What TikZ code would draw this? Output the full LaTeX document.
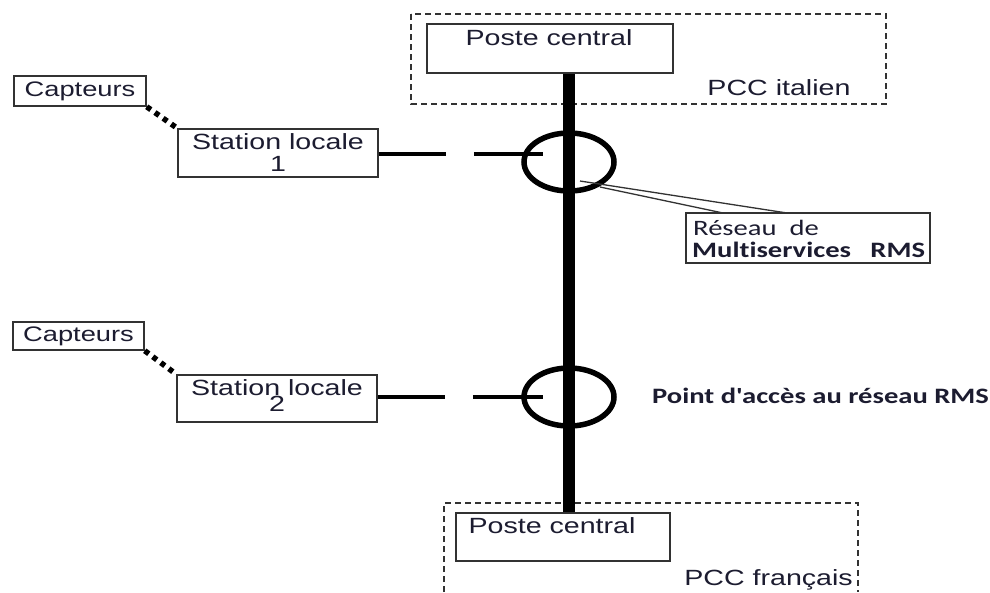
\documentclass[tikz,border=0pt]{standalone}
\usepackage{fontspec}
\setmainfont{Liberation Sans}
\newfontfamily\arialw[FakeStretch=1.3]{Liberation Sans}
\newfontfamily\calw[FakeStretch=1.3,Ligatures=NoCommon]{Carlito}
\usetikzlibrary{shapes.geometric}
\definecolor{ink}{RGB}{28,28,48}
\definecolor{frame}{RGB}{50,50,50}
\begin{document}
\begin{tikzpicture}[x=1pt,y=-1pt,
  box/.style={draw=frame, line width=1.5pt, fill=white, inner sep=0pt, text=ink},
  zone/.style={draw=frame, line width=1.6pt, dash pattern=on 6pt off 4pt},
  lbl/.style={text=ink, inner sep=0pt, font=\arialw\fontsize{22}{22}\selectfont},
  small/.style={font=\arialw\fontsize{21}{22}\selectfont},
  callw/.style={text=ink, inner sep=0pt, font=\calw\fontsize{22}{22}\selectfont},
  bus/.style={line width=12pt},
  ring/.style={draw, ellipse, line width=5.5pt, inner sep=0pt, minimum width=90pt, minimum height=58pt},
  link/.style={line width=4pt, dash pattern=on 67pt off 28pt on 90pt},
  sensorlink/.style={line width=5.5pt, dash pattern=on 5pt off 5pt},
  pointer/.style={draw=frame, line width=1.3pt}
]
\useasboundingbox[fill=white] (0,0) rectangle (990,592);

% control-centre zones
\draw[zone] (411,14) rectangle (886,104);
\draw[zone] (444,592) -- (444,503) -- (858,503) -- (858,592);
\node[lbl, anchor=base] (pccit) at (779,95) {PCC italien};
\node[lbl, anchor=base east] (pccfr) at (853,585) {PCC français};

% central stations
\node[box, minimum width=246pt, minimum height=49pt] (pc1) at (550,48.5) {};
\node[lbl, anchor=base] (pc1t) at (549,45) {Poste central};
\node[box, minimum width=214pt, minimum height=48pt] (pc2) at (563,537) {};
\node[lbl, anchor=base] (pc2t) at (552,533) {Poste central};

% access points on the RMS network
\node[ring] (c1) at (569,162) {};
\node[ring] (c2) at (569,397) {};

% network backbone
\draw[bus] (c1.center |- pc1.south) -- (c1.center |- pc2.north);

% local stations and sensors
\node[box, small, minimum width=132pt, minimum height=30pt] (cap1) at (80,91) {Capteurs};
\node[box, lbl, align=center, minimum width=200pt, minimum height=48pt] (st1) at (278,153) {Station locale\\1};
\node[box, small, minimum width=131pt, minimum height=28pt] (cap2) at (78.5,336) {Capteurs};
\node[box, minimum width=200pt, minimum height=47pt] (st2) at (277,398.5) {};
\node[lbl, anchor=base] (st2t) at (277,395) {Station locale};
\node[lbl, anchor=base] (st2n) at (277,411) {2};

\draw[sensorlink] (cap1.south east) -- (st1.north west);
\draw[sensorlink] (cap2.south east) -- (st2.north west);

\coordinate (e1) at (543,154);
\coordinate (e2) at (543,397);
\draw[link] (st1.east |- e1) -- (e1);
\draw[link] (st2.east |- e2) -- (e2);

% RMS callout
\node[box, minimum width=244pt, minimum height=50pt] (rms) at (808,238) {};
\node[callw, anchor=base west] (rms1) at (693,235) {Réseau\ \ de};
\node[callw, anchor=base west] (rms2) at (692,257) {\textbf{Multiservices\ \ \ RMS}};
\coordinate (p1) at (580,181);
\coordinate (p2) at (600,187);
\coordinate (q1) at (787,213);
\coordinate (q2) at (723,213);
\draw[pointer] (p1) -- (q1);
\draw[pointer] (p2) -- (q2);

\node[callw, anchor=base west] (acc) at (652,403) {\textbf{Point d'accès au réseau RMS}};
\end{tikzpicture}
\end{document}
